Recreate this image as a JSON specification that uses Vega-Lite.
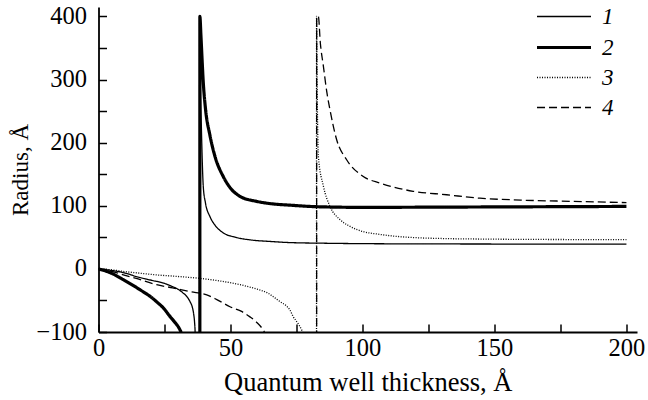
{
  "$schema": "https://vega.github.io/schema/vega-lite/v6.json",
  "autosize": {"type": "none"},
  "width": 538.5,
  "height": 325,
  "padding": {"left": 98.5, "top": 7, "right": 11, "bottom": 68},
  "background": "white",
  "config": {
    "view": {"stroke": null},
    "font": "Liberation Serif",
    "axis": {
      "domainColor": "black",
      "domainWidth": 1.8,
      "tickColor": "black",
      "tickWidth": 1.5,
      "tickSize": -8,
      "labelColor": "black",
      "titleColor": "black",
      "labelFont": "Liberation Serif",
      "titleFont": "Liberation Serif",
      "labelFontSize": 24.5,
      "titleFontWeight": "normal",
      "grid": false
    },
    "legend": {
      "symbolType": "M-2.5,0H2.5",
      "symbolSize": 466,
      "symbolStrokeColor": "black",
      "labelFont": "Liberation Serif",
      "labelFontStyle": "italic",
      "labelFontSize": 23,
      "labelColor": "black",
      "labelOffset": 25.5,
      "rowPadding": 6
    }
  },
  "data": {
    "values": [
      {"series": "1", "x": 0, "y": 0}, {"series": "1", "x": 5, "y": -2.5}, {"series": "1", "x": 10, "y": -6.5}, {"series": "1", "x": 15, "y": -13}, {"series": "1", "x": 20, "y": -18}, {"series": "1", "x": 25, "y": -23}, {"series": "1", "x": 28, "y": -28}, {"series": "1", "x": 30, "y": -32}, {"series": "1", "x": 32, "y": -38}, {"series": "1", "x": 33.5, "y": -44}, {"series": "1", "x": 34.7, "y": -52}, {"series": "1", "x": 35.5, "y": -60}, {"series": "1", "x": 36, "y": -70}, {"series": "1", "x": 36.4, "y": -85}, {"series": "1", "x": 36.6, "y": -100},
      {"series": "1", "x": 38.3, "y": -5000}, {"series": "1", "x": 38.35, "y": 400}, {"series": "1", "x": 38.6, "y": 300}, {"series": "1", "x": 39, "y": 220}, {"series": "1", "x": 39.7, "y": 130}, {"series": "1", "x": 40.5, "y": 105}, {"series": "1", "x": 42.2, "y": 83}, {"series": "1", "x": 44, "y": 70}, {"series": "1", "x": 47.3, "y": 57}, {"series": "1", "x": 52, "y": 50}, {"series": "1", "x": 57.4, "y": 46}, {"series": "1", "x": 65, "y": 43.5}, {"series": "1", "x": 72.5, "y": 41.7}, {"series": "1", "x": 85, "y": 40.7}, {"series": "1", "x": 100, "y": 40}, {"series": "1", "x": 125, "y": 39.6}, {"series": "1", "x": 150, "y": 39.4}, {"series": "1", "x": 175, "y": 39.3}, {"series": "1", "x": 200, "y": 39.2},

      {"series": "2", "x": 0, "y": 0}, {"series": "2", "x": 5, "y": -7}, {"series": "2", "x": 9.4, "y": -17}, {"series": "2", "x": 15.7, "y": -33}, {"series": "2", "x": 20, "y": -45}, {"series": "2", "x": 22, "y": -52}, {"series": "2", "x": 25, "y": -64}, {"series": "2", "x": 27, "y": -75}, {"series": "2", "x": 29, "y": -85}, {"series": "2", "x": 30.9, "y": -97}, {"series": "2", "x": 31.2, "y": -100},
      {"series": "2", "x": 38.35, "y": -5000}, {"series": "2", "x": 38.4, "y": 400}, {"series": "2", "x": 38.8, "y": 370}, {"series": "2", "x": 39.2, "y": 335}, {"series": "2", "x": 39.7, "y": 295}, {"series": "2", "x": 40.5, "y": 255}, {"series": "2", "x": 42.2, "y": 212}, {"series": "2", "x": 44, "y": 180}, {"series": "2", "x": 47.3, "y": 146}, {"series": "2", "x": 50, "y": 128}, {"series": "2", "x": 53.6, "y": 115}, {"series": "2", "x": 59.9, "y": 107}, {"series": "2", "x": 65, "y": 103.5}, {"series": "2", "x": 72.5, "y": 101}, {"series": "2", "x": 83, "y": 98.5}, {"series": "2", "x": 100, "y": 97.5}, {"series": "2", "x": 125, "y": 97.8}, {"series": "2", "x": 150, "y": 98.2}, {"series": "2", "x": 175, "y": 98.6}, {"series": "2", "x": 200, "y": 99},

      {"series": "3", "x": 0, "y": 0}, {"series": "3", "x": 5, "y": -1.5}, {"series": "3", "x": 9.4, "y": -4}, {"series": "3", "x": 15, "y": -6.5}, {"series": "3", "x": 22, "y": -9.5}, {"series": "3", "x": 30, "y": -12}, {"series": "3", "x": 38.4, "y": -15}, {"series": "3", "x": 45, "y": -18.5}, {"series": "3", "x": 53.6, "y": -25}, {"series": "3", "x": 60, "y": -32}, {"series": "3", "x": 64, "y": -38}, {"series": "3", "x": 66.2, "y": -44}, {"series": "3", "x": 68.8, "y": -52}, {"series": "3", "x": 71, "y": -58}, {"series": "3", "x": 72.5, "y": -65}, {"series": "3", "x": 73.8, "y": -76}, {"series": "3", "x": 75.5, "y": -86}, {"series": "3", "x": 77, "y": -97}, {"series": "3", "x": 77.3, "y": -100},
      {"series": "3", "x": 82.55, "y": -5000}, {"series": "3", "x": 82.6, "y": 400}, {"series": "3", "x": 82.8, "y": 300}, {"series": "3", "x": 83.0, "y": 230}, {"series": "3", "x": 83.3, "y": 178}, {"series": "3", "x": 85.2, "y": 131}, {"series": "3", "x": 87.7, "y": 99}, {"series": "3", "x": 91.5, "y": 78}, {"series": "3", "x": 95, "y": 68}, {"series": "3", "x": 100.3, "y": 59}, {"series": "3", "x": 106, "y": 55}, {"series": "3", "x": 113, "y": 51.5}, {"series": "3", "x": 120, "y": 49.5}, {"series": "3", "x": 131.9, "y": 48}, {"series": "3", "x": 144.5, "y": 47.3}, {"series": "3", "x": 160, "y": 46.8}, {"series": "3", "x": 180, "y": 46.5}, {"series": "3", "x": 200, "y": 46.3},

      {"series": "4", "x": 0, "y": 0}, {"series": "4", "x": 5, "y": -4}, {"series": "4", "x": 9.4, "y": -9.5}, {"series": "4", "x": 15, "y": -16}, {"series": "4", "x": 22, "y": -25}, {"series": "4", "x": 28, "y": -30}, {"series": "4", "x": 34.7, "y": -36}, {"series": "4", "x": 41, "y": -41}, {"series": "4", "x": 45, "y": -49}, {"series": "4", "x": 49.8, "y": -60}, {"series": "4", "x": 54, "y": -67}, {"series": "4", "x": 57.4, "y": -76}, {"series": "4", "x": 60, "y": -85}, {"series": "4", "x": 62.4, "y": -97}, {"series": "4", "x": 62.8, "y": -100},
      {"series": "4", "x": 82.6, "y": -5000}, {"series": "4", "x": 82.65, "y": 400}, {"series": "4", "x": 83.3, "y": 400}, {"series": "4", "x": 84, "y": 360}, {"series": "4", "x": 85.2, "y": 321}, {"series": "4", "x": 86.5, "y": 280}, {"series": "4", "x": 87.7, "y": 252}, {"series": "4", "x": 90.2, "y": 205}, {"series": "4", "x": 94, "y": 173}, {"series": "4", "x": 100.3, "y": 146.5}, {"series": "4", "x": 106.6, "y": 136}, {"series": "4", "x": 119.2, "y": 123}, {"series": "4", "x": 131.9, "y": 117.5}, {"series": "4", "x": 144.5, "y": 112}, {"series": "4", "x": 160, "y": 109}, {"series": "4", "x": 180, "y": 107}, {"series": "4", "x": 200, "y": 105}
    ]
  },
  "mark": {"type": "line", "color": "black", "clip": true, "strokeCap": "butt", "interpolate": "monotone"},
  "encoding": {
    "x": {
      "field": "x", "type": "quantitative",
      "scale": {"domain": [0, 204], "nice": false, "zero": false},
      "axis": {
        "title": "Quantum well thickness, Å",
        "titleFontSize": 26.5,
        "titlePadding": 10,
        "labelFont": "Liberation Serif",
        "titleFont": "Liberation Serif",
        "values": [0, 25, 50, 75, 100, 125, 150, 175, 200],
        "labelExpr": "datum.value % 50 === 0 ? datum.label : ''",
        "labelPadding": 12,
        "labelFlush": false
      }
    },
    "y": {
      "field": "y", "type": "quantitative",
      "scale": {"domain": [-100, 415], "nice": false, "zero": false},
      "axis": {
        "title": "Radius, Å",
        "titleFontSize": 23,
        "titlePadding": 3,
        "labelFont": "Liberation Serif",
        "titleFont": "Liberation Serif",
        "values": [-100, -50, 0, 50, 100, 150, 200, 250, 300, 350, 400],
        "labelExpr": "datum.value % 100 === 0 ? datum.label : ''",
        "labelPadding": 20,
        "labelFlush": false
      }
    },
    "strokeDash": {
      "field": "series", "type": "nominal",
      "scale": {"domain": ["1", "2", "3", "4"], "range": [[1, 0], [1, 0], [1, 1.5], [8, 4]]},
      "legend": {"title": null, "orient": "none", "legendX": 453, "legendY": -2}
    },
    "strokeWidth": {
      "field": "series", "type": "ordinal",
      "scale": {"type": "ordinal", "domain": ["1", "2", "3", "4"], "range": [1.3, 3.2, 1.3, 1.3]},
      "legend": {"title": null, "orient": "none", "legendX": 453, "legendY": -2}
    }
  }
}
